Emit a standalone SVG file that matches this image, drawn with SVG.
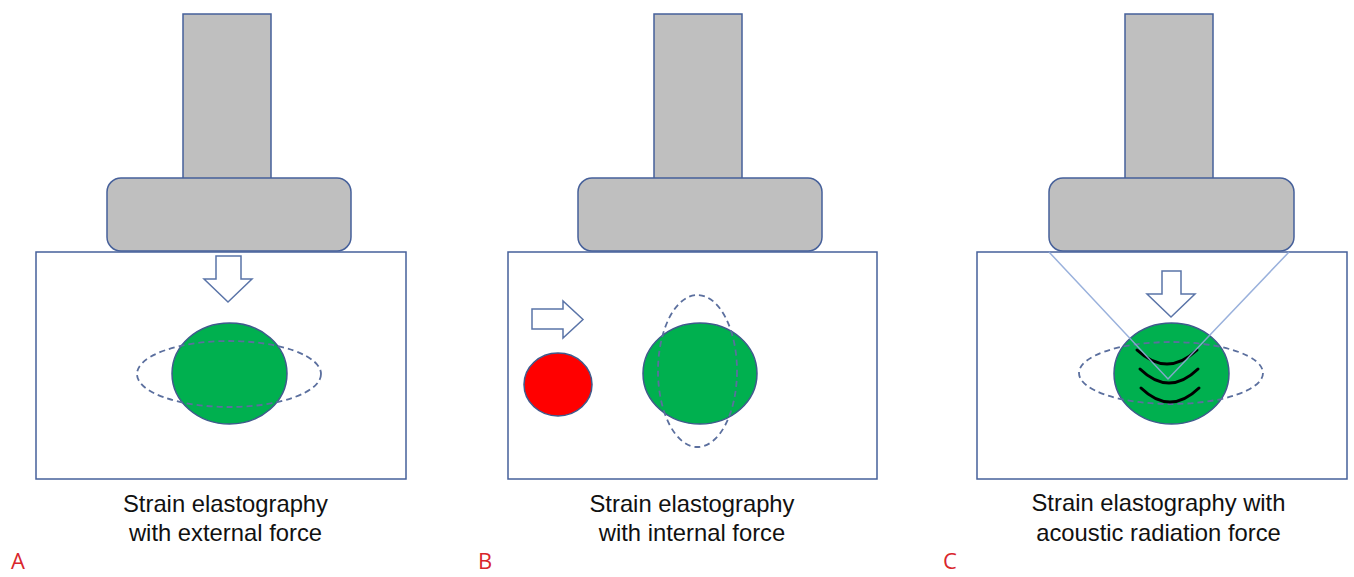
<svg xmlns="http://www.w3.org/2000/svg" width="1354" height="577" viewBox="0 0 1354 577">
<style>
.probe{fill:#bfbfbf;stroke:#46609a;stroke-width:1.5}
.box{fill:#fff;stroke:#46609a;stroke-width:1.5}
.tumor{fill:#00b04f;stroke:#3f5a8c;stroke-width:1.5}
.dash{fill:none;stroke:#5b6f9e;stroke-width:1.8;stroke-dasharray:6 4}
.arrow{fill:#fff;stroke:#5a74a8;stroke-width:1.5}
.beam{stroke:#8fa8d8;stroke-width:1.5;fill:none}
.wave{fill:none;stroke:#000;stroke-width:3;stroke-linecap:round}
.cap{font-family:"Liberation Sans",Arial,sans-serif;font-size:23.8px;fill:#111;text-anchor:middle}
.lab{font-family:"Open Sans","Liberation Sans",sans-serif;font-size:22px;fill:#d9262c}
</style>
<rect width="1354" height="577" fill="#fff"/>
<g id="panelA">
<rect class="probe" x="183" y="14" width="88" height="166"/>
<rect class="probe" x="107" y="178" width="244" height="73" rx="14"/>
<rect class="box" x="36" y="252" width="370" height="227"/>
<path class="arrow" d="M216,256 H241 V279 H252 L228,302 L204,279 H216 Z"/>
<ellipse class="tumor" cx="229.5" cy="373.5" rx="57.5" ry="50.5"/>
<ellipse class="dash" cx="229" cy="374" rx="92" ry="33"/>
<text class="cap" x="225.5" y="512">Strain elastography</text>
<text class="cap" x="225.5" y="541">with external force</text>
<text class="lab" x="11" y="569">A</text>
</g>
<g id="panelB">
<rect class="probe" x="654" y="14" width="88" height="166"/>
<rect class="probe" x="578" y="178" width="244" height="73" rx="14"/>
<rect class="box" x="508" y="252" width="369" height="227"/>
<path class="arrow" d="M532,309 H563 V301 L583,319.5 L563,338 V329 H532 Z"/>
<ellipse cx="558" cy="384.5" rx="34" ry="31.5" fill="#ff0000" stroke="#3f5a8c" stroke-width="1.5"/>
<ellipse class="tumor" cx="700" cy="373.5" rx="57" ry="50.5"/>
<ellipse class="dash" cx="697.5" cy="371" rx="39.5" ry="76"/>
<text class="cap" x="692" y="512">Strain elastography</text>
<text class="cap" x="692" y="541">with internal force</text>
<text class="lab" x="478" y="569">B</text>
</g>
<g id="panelC">
<rect class="probe" x="1125" y="14" width="88" height="166"/>
<rect class="probe" x="1049" y="178" width="245" height="73" rx="14"/>
<rect class="box" x="977" y="252" width="370" height="227"/>
<ellipse class="tumor" cx="1171.5" cy="373.5" rx="57.5" ry="50.5"/>
<ellipse class="dash" cx="1171" cy="373" rx="92" ry="31"/>
<path class="arrow" d="M1162,271 H1181 V294 H1195 L1171,317 L1147,294 H1162 Z"/>
<g id="waves">
<path class="wave" d="M1137,350 Q1167,378 1197,350"/>
<path class="wave" d="M1140,369 Q1169,397 1198,369"/>
<path class="wave" d="M1141,388 Q1170,416 1199,388"/>
</g>
<text class="cap" x="1158.5" y="511">Strain elastography with</text>
<text class="cap" x="1158.5" y="541">acoustic radiation force</text>
<text class="lab" x="943" y="569">C</text>
</g>
<g id="connectors">
<path class="beam" d="M1049,252 L1168,379 L1289,252" opacity="0.9"/>
</g>
</svg>
